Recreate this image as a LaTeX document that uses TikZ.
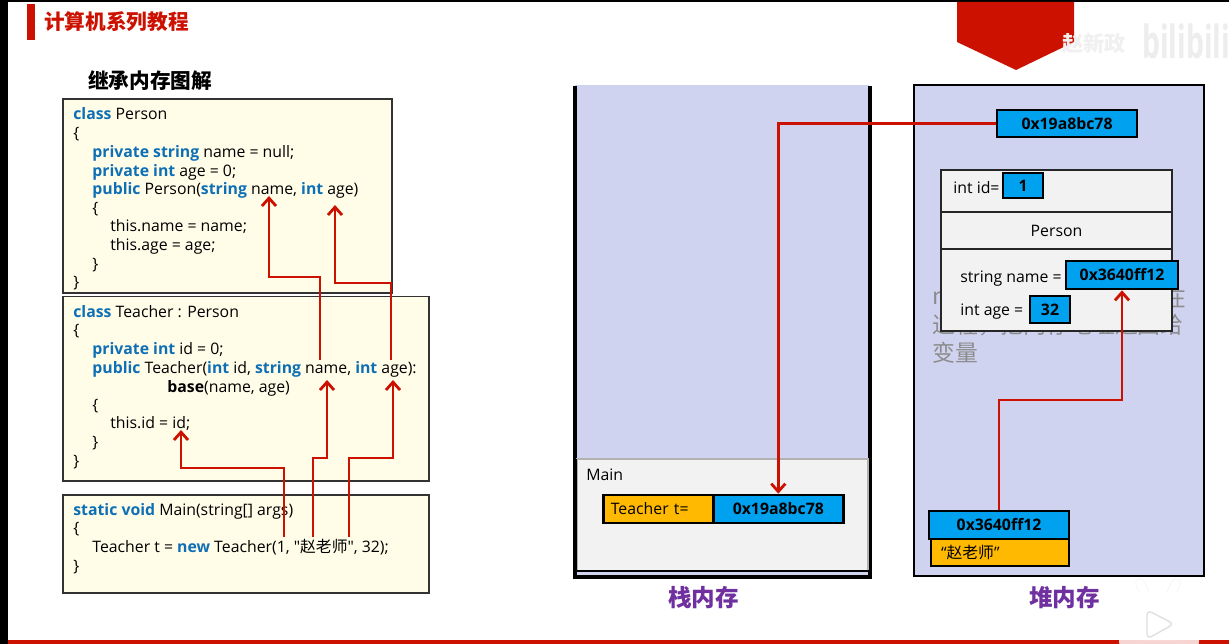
\documentclass[tikz,border=0pt]{standalone}
\usepackage{fontspec}
\usepackage{xcolor}
\usetikzlibrary{arrows.meta,positioning}
\setmainfont{Open Sans}
\newfontfamily\cjk{Noto Sans CJK SC}
\newfontfamily\plainq{Open Sans}
\definecolor{slidered}{HTML}{CC1100}
\definecolor{kwblue}{HTML}{0F6FB5}
\definecolor{codebg}{HTML}{FFFDE8}
\definecolor{memfill}{HTML}{D0D3F0}
\definecolor{framefill}{HTML}{F2F2F2}
\definecolor{addrblue}{HTML}{00A2F0}
\definecolor{valorange}{HTML}{FFB900}
\definecolor{labelpurple}{HTML}{7030A0}
\newcommand{\kw}[1]{\textcolor{kwblue}{\textbf{#1}}}
\tikzset{
	codebox/.style={draw=black!80,line width=0.8pt,fill=codebg,inner sep=0pt},
	codeline/.style={anchor=west,inner sep=0pt,text height=9.7pt,text depth=2pt,font=\fontsize{9}{11}\selectfont},
	addrbox/.style={draw=black,line width=1.5pt,fill=addrblue,inner sep=0pt,font=\fontsize{9}{11}\selectfont\bfseries},
	valbox/.style={draw=black,line width=1.5pt,fill=valorange,inner sep=0pt,font=\fontsize{9}{11}\selectfont},
	rowbox/.style={draw=black!85,line width=0.7pt,fill=framefill,inner sep=0pt,minimum width=4.62cm,font=\fontsize{9}{11}\selectfont},
	redline/.style={draw=slidered,line width=1.6pt},
	redarrow/.style={redline,-{Straight Barb[length=4.5pt,width=8pt]}},
	ghost/.style={anchor=west,inner sep=0pt,text=black!45,font=\fontsize{13}{15}\selectfont\cjk},
	memlabel/.style={inner sep=0pt,text=labelpurple,font=\fontsize{13.4}{15}\selectfont\cjk\bfseries}
}
\begin{document}
\begin{tikzpicture}[x=0.02cm,y=-0.02cm]
	\useasboundingbox (0,0) rectangle (1229,644);
	\fill[white] (0,0) rectangle (1229,644);
	\fill[black] (0,0) rectangle (1229,2);
	\fill[black] (0,0) rectangle (7.5,644);
	\fill[slidered] (7.5,640) rectangle (1229,644);

	% title
	\fill[slidered] (27,4) rectangle (35,40);
	\node[anchor=west,inner sep=0pt,text=slidered,font=\fontsize{11.75}{14}\selectfont\cjk\bfseries] (slidetitle) at (44,22) {计算机系列教程};
	\node[anchor=west,inner sep=0pt,font=\fontsize{11.75}{14}\selectfont\cjk\bfseries] (leftheading) at (88,81) {继承内存图解};
	\fill[slidered] (957,2) -- (1074,2) -- (1074,42) -- (1016,70) -- (957,42) -- cycle;
	\node[anchor=west,inner sep=0pt,text=black!6,font=\fontsize{12}{14}\selectfont\cjk\bfseries] (markname) at (1062,43) {赵新政};
	\node[anchor=west,inner sep=0pt,text=black!7,font=\fontsize{26}{28}\selectfont\bfseries] (marklogo) at (1142,41) {\scalebox{0.62}[1]{bilibili}};

	% code boxes
	\node[codebox,minimum width=6.58cm,minimum height=3.88cm] (personbox) at (227.5,196) {};
	\node[codebox,minimum width=7.32cm,minimum height=3.69cm] (teacherbox) at (246,388.75) {};
	\node[codebox,minimum width=7.32cm,minimum height=1.96cm] (mainbox) at (246,544) {};

	\node[codeline] (person1) at (73,113) {\kw{class} Person};
	\node[codeline] (person2) at (73,132) {\{};
	\node[codeline] (person3) at (92,151) {\kw{private string} name = null;};
	\node[codeline] (person4) at (92,169.5) {\kw{private int} age = 0;};
	\node[codeline] (person5) at (92,188) {\kw{public} Person(\kw{string} name, \kw{int} age)};
	\node[codeline] (person6) at (92,207) {\{};
	\node[codeline] (person7) at (110,225) {this.name = name;};
	\node[codeline] (person8) at (110,244) {this.age = age;};
	\node[codeline] (person9) at (92,263) {\}};
	\node[codeline] (person10) at (73,281) {\}};

	\node[codeline] (teacher1) at (73,311) {\kw{class} Teacher : Person};
	\node[codeline] (teacher2) at (73,329) {\{};
	\node[codeline] (teacher3) at (92,348) {\kw{private int} id = 0;};
	\node[codeline] (teacher4) at (92,367) {\kw{public} Teacher(\kw{int} id, \kw{string} name, \kw{int} age):};
	\node[codeline] (teacher5) at (167,386) {\textbf{base}(name, age)};
	\node[codeline] (teacher6) at (92,404) {\{};
	\node[codeline] (teacher7) at (110,422) {this.id = id;};
	\node[codeline] (teacher8) at (92,441) {\}};
	\node[codeline] (teacher9) at (73,460) {\}};

	\node[codeline] (main1) at (73,509) {\kw{static void} Main(string[] args)};
	\node[codeline] (main2) at (73,527) {\{};
	\node[codeline] (main3) at (92,546) {Teacher t = \kw{new} Teacher(1, {\plainq "}{\cjk 赵老师}{\plainq "}, 32);};
	\node[codeline] (main4) at (73,565) {\}};

	% parameter passing
	\coordinate (tname) at (320,360);
	\coordinate (tage) at (391,360);
	\coordinate (pname) at (269,196);
	\coordinate (page) at (335,205);
	\coordinate (pnamebend) at (320,277);
	\coordinate (pagebend) at (391,283);
	\coordinate (argid) at (284,537);
	\coordinate (argname) at (313,537);
	\coordinate (argage) at (349,537);
	\coordinate (idbend) at (284,468);
	\coordinate (namebend) at (313,458);
	\coordinate (agebend) at (349,458);
	\coordinate (tid) at (181,430);
	\coordinate (tnamein) at (327,380);
	\coordinate (tagein) at (393,380);
	\draw[redarrow] (tname) -- (pnamebend) -| (pname);
	\draw[redarrow] (tage) -- (pagebend) -| (page);
	\draw[redarrow] (argid) -- (idbend) -| (tid);
	\draw[redarrow] (argname) -- (namebend) -| (tnamein);
	\draw[redarrow] (argage) -- (agebend) -| (tagein);

	% stack
	\fill[memfill] (575,85) rectangle (869,577);
	\draw[line width=2pt] (575,86) -- (575,577) -- (870,577) -- (870,86);
	\node[rowbox,draw=black!30,minimum width=5.82cm,minimum height=2.24cm] (mainframe) at (722.5,515) {};
	\draw[line width=1.4pt] (576,459) -- (576,571) -- (869,571);
	\node[codeline] (mainlabel) at (586,474) {Main};
	\node[valbox,anchor=west,minimum width=2.2cm,minimum height=0.56cm,text width=1.9cm] (teachervar) at (602,509) {Teacher t=};
	\node[addrbox,anchor=west,minimum width=2.6cm,minimum height=0.56cm] (stackaddr) at (712,509) {0x19a8bc78};
	\node[memlabel] (stacklabel) at (703.5,598) {栈内存};

	% heap
	\node[draw=black,line width=1.3pt,fill=memfill,inner sep=0pt,minimum width=5.8cm,minimum height=9.82cm] (heapbox) at (1059,330.5) {};
	\node[ghost] (ghost1a) at (932,298) {n};
	\node[ghost,anchor=east] (ghost1b) at (1187,298) {在};
	\node[ghost] (ghost2) at (932,325) {过程，把内存地址返回给};
	\node[ghost] (ghost3) at (932,353) {变量};
	\node[addrbox,minimum width=2.8cm,minimum height=0.54cm] (heapaddr) at (1067,123.5) {0x19a8bc78};

	\node[rowbox,minimum height=0.84cm] (idrow) at (1056.5,191) {};
	\node[rowbox,minimum height=0.74cm] (personrow) at (1056.5,230.5) {Person};
	\node[rowbox,minimum height=1.64cm] (fieldrow) at (1056.5,290) {};
	\node[codeline] (idlabel) at (953,187) {int id=};
	\node[addrbox,minimum width=0.8cm,minimum height=0.5cm] (idval) at (1023,185.5) {1};
	\node[codeline] (namelabel) at (960,276) {string name =};
	\node[addrbox,minimum width=2.24cm,minimum height=0.56cm] (nameval) at (1122,275) {0x3640ff12};
	\node[codeline] (agelabel) at (960,309) {int age =};
	\node[addrbox,minimum width=0.8cm,minimum height=0.54cm] (ageval) at (1050,309.5) {32};

	\node[addrbox,minimum width=2.8cm,minimum height=0.56cm] (straddr) at (999,525) {0x3640ff12};
	\node[valbox,minimum width=2.76cm,minimum height=0.54cm,text width=2.36cm] (strval) at (1000,552.5) {“{\cjk 赵老师}”};
	\node[memlabel] (heaplabel) at (1064.5,598) {堆内存};

	% references
	\coordinate (heapbend) at (999,400);
	\draw[redarrow] (heapaddr.west) -| (stackaddr.north);
	\draw[redarrow] (straddr.north) -- (heapbend) -| (nameval.south);

	% player icon
	\draw[black!4,line width=5.5pt,line cap=round] (1148,600) -- (1140,583);
	\draw[black!4,line width=5.5pt,line cap=round] (1168,600) -- (1176,583);
	\draw[white,line width=4.5pt,line cap=round] (1148,600) -- (1140,583);
	\draw[white,line width=4.5pt,line cap=round] (1168,600) -- (1176,583);
	\fill[white,opacity=0.82,rounded corners=11pt] (1119,592) rectangle (1199,660);
	\fill[white,rounded corners=11pt] (1119,592) rectangle (1199,640);
	\draw[black!12,fill=white,line width=0.8pt,line join=round,rounded corners=3pt] (1147,610) -- (1174,624) -- (1147,639) -- cycle;
\end{tikzpicture}
\end{document}
